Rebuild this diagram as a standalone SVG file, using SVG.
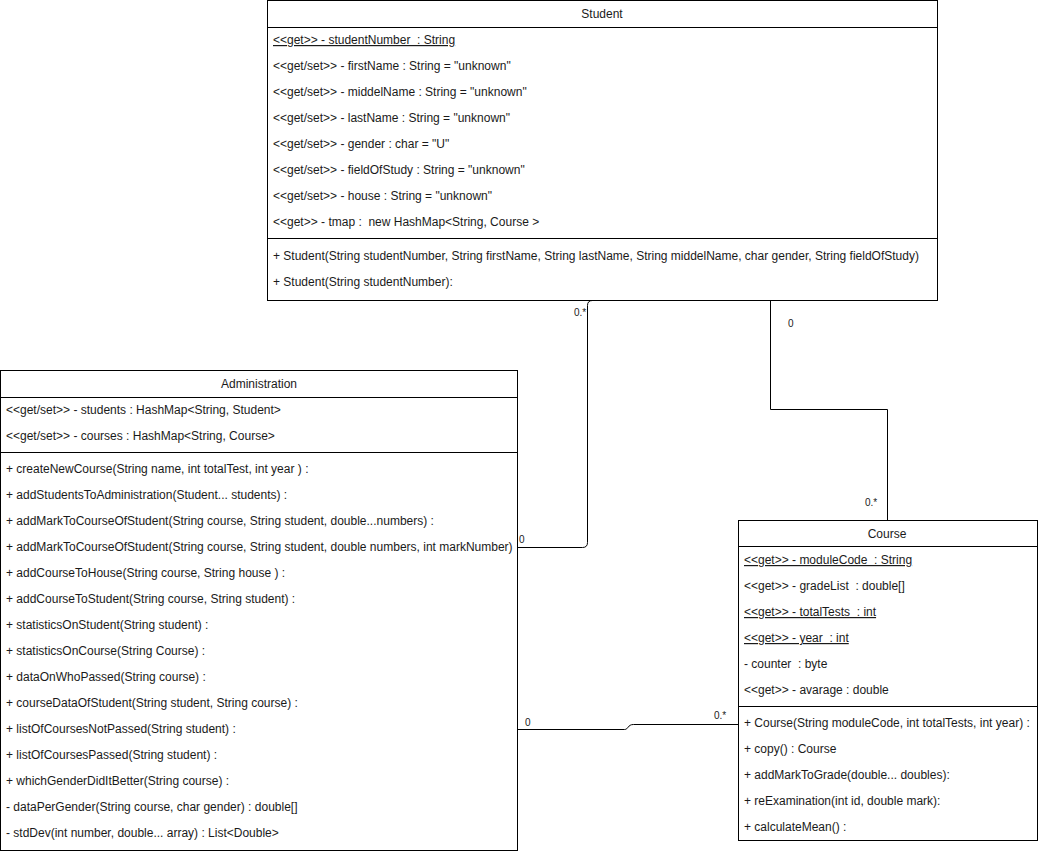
<svg xmlns="http://www.w3.org/2000/svg" width="1038" height="851" viewBox="0 0 1038 851">
  <style>
    .box { fill: #ffffff; stroke: #000000; stroke-width: 1; }
    .sep { stroke: #000000; stroke-width: 1; }
    text { font-family: "Liberation Sans", Arial, sans-serif; font-size: 12px; fill: #1a1a1a; white-space: pre; }
    .title { text-anchor: middle; }
    .static { text-decoration: underline; }
    .edge { fill: none; stroke: #000000; stroke-width: 1; }
    .mult { font-size: 10px; }
  </style>
  <rect width="1038" height="851" fill="#ffffff"/>

  <!-- associations -->
  <g id="connectors">
    <path class="edge" d="M517.5,547.5 L582.5,547.5 Q587.5,547.5 587.5,542.5 L587.5,305.5 Q587.5,300.5 592.5,300.5"/>
    <path class="edge" d="M770.5,300.5 L770.5,409.5 L887.5,409.5 L887.5,520.5"/>
    <path class="edge" d="M517.5,729.5 L624.5,729.5 C628.5,729.5 627.5,724.5 633.5,724.5 L738.5,724.5"/>
    <text class="mult" x="519" y="543">0</text>
    <text class="mult" x="574" y="316">0.*</text>
    <text class="mult" x="788" y="327">0</text>
    <text class="mult" x="865" y="506">0.*</text>
    <text class="mult" x="525" y="726">0</text>
    <text class="mult" x="714" y="719">0.*</text>
  </g>

  <!-- Student class -->
  <g id="student">
    <rect class="box" x="267.5" y="0.5" width="670" height="300"/>
    <line class="sep" x1="267.5" y1="27.5" x2="937.5" y2="27.5"/>
    <line class="sep" x1="267.5" y1="238.5" x2="937.5" y2="238.5"/>
    <text class="title" x="602" y="18">Student</text>
    <text class="static" x="273" y="44">&lt;&lt;get&gt;&gt; - studentNumber  : String</text>
    <text x="273" y="70">&lt;&lt;get/set&gt;&gt; - firstName : String = "unknown"</text>
    <text x="273" y="96">&lt;&lt;get/set&gt;&gt; - middelName : String = "unknown"</text>
    <text x="273" y="122">&lt;&lt;get/set&gt;&gt; - lastName : String = "unknown"</text>
    <text x="273" y="148">&lt;&lt;get/set&gt;&gt; - gender : char = "U"</text>
    <text x="273" y="174">&lt;&lt;get/set&gt;&gt; - fieldOfStudy : String = "unknown"</text>
    <text x="273" y="200">&lt;&lt;get/set&gt;&gt; - house : String = "unknown"</text>
    <text x="273" y="226">&lt;&lt;get&gt;&gt; - tmap :  new HashMap&lt;String, Course &gt;</text>
    <text x="273" y="260">+ Student(String studentNumber, String firstName, String lastName, String middelName, char gender, String fieldOfStudy)</text>
    <text x="273" y="286">+ Student(String studentNumber):</text>
  </g>

  <!-- Administration class -->
  <g id="administration">
    <rect class="box" x="0.5" y="370.5" width="517" height="480"/>
    <line class="sep" x1="0.5" y1="397.5" x2="517.5" y2="397.5"/>
    <line class="sep" x1="0.5" y1="452.5" x2="517.5" y2="452.5"/>
    <text class="title" x="259" y="388">Administration</text>
    <text x="6" y="414">&lt;&lt;get/set&gt;&gt; - students : HashMap&lt;String, Student&gt;</text>
    <text x="6" y="440">&lt;&lt;get/set&gt;&gt; - courses : HashMap&lt;String, Course&gt;</text>
    <text x="6" y="473">+ createNewCourse(String name, int totalTest, int year ) :</text>
    <text x="6" y="499">+ addStudentsToAdministration(Student... students) :</text>
    <text x="6" y="525">+ addMarkToCourseOfStudent(String course, String student, double...numbers) :</text>
    <text x="6" y="551">+ addMarkToCourseOfStudent(String course, String student, double numbers, int markNumber)</text>
    <text x="6" y="577">+ addCourseToHouse(String course, String house ) :</text>
    <text x="6" y="603">+ addCourseToStudent(String course, String student) :</text>
    <text x="6" y="629">+ statisticsOnStudent(String student) :</text>
    <text x="6" y="655">+ statisticsOnCourse(String Course) :</text>
    <text x="6" y="681">+ dataOnWhoPassed(String course) :</text>
    <text x="6" y="707">+ courseDataOfStudent(String student, String course) :</text>
    <text x="6" y="733">+ listOfCoursesNotPassed(String student) :</text>
    <text x="6" y="759">+ listOfCoursesPassed(String student) :</text>
    <text x="6" y="785">+ whichGenderDidItBetter(String course) :</text>
    <text x="6" y="811">- dataPerGender(String course, char gender) : double[]</text>
    <text x="6" y="837">- stdDev(int number, double... array) : List&lt;Double&gt;</text>
  </g>

  <!-- Course class -->
  <g id="course">
    <rect class="box" x="738.5" y="520.5" width="299" height="320"/>
    <line class="sep" x1="738.5" y1="546.5" x2="1037.5" y2="546.5"/>
    <line class="sep" x1="738.5" y1="706.5" x2="1037.5" y2="706.5"/>
    <text class="title" x="887" y="538">Course</text>
    <text class="static" x="744" y="564">&lt;&lt;get&gt;&gt; - moduleCode  : String</text>
    <text x="744" y="590">&lt;&lt;get&gt;&gt; - gradeList  : double[]</text>
    <text class="static" x="744" y="616">&lt;&lt;get&gt;&gt; - totalTests  : int</text>
    <text class="static" x="744" y="642">&lt;&lt;get&gt;&gt; - year  : int</text>
    <text x="744" y="668">- counter  : byte</text>
    <text x="744" y="694">&lt;&lt;get&gt;&gt; - avarage : double</text>
    <text x="744" y="727">+ Course(String moduleCode, int totalTests, int year) :</text>
    <text x="744" y="753">+ copy() : Course</text>
    <text x="744" y="779">+ addMarkToGrade(double... doubles):</text>
    <text x="744" y="805">+ reExamination(int id, double mark):</text>
    <text x="744" y="831">+ calculateMean() :</text>
  </g>
</svg>
